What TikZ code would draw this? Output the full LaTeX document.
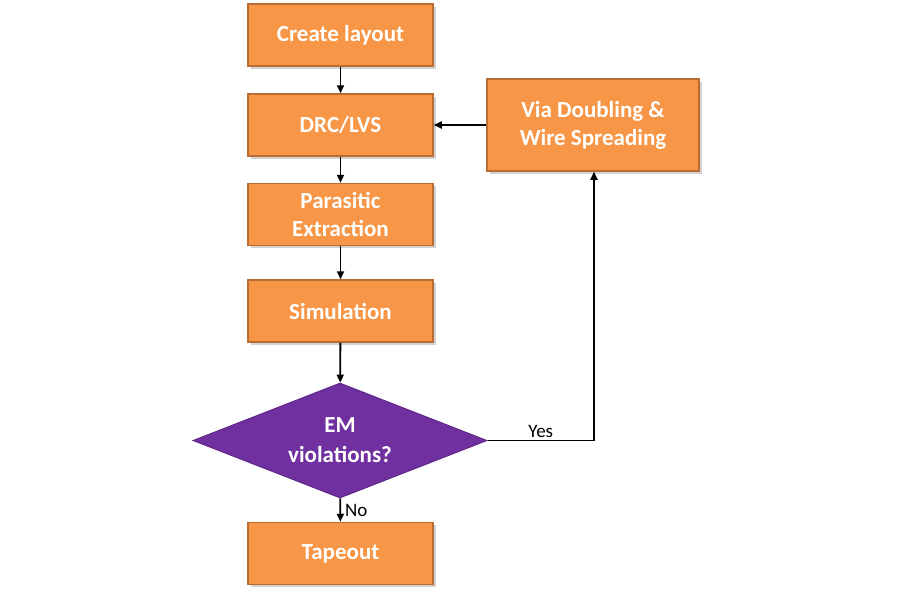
\documentclass[tikz,border=0pt]{standalone}
\usepackage{fontspec}
\setmainfont{Carlito}
\usetikzlibrary{shapes.geometric,arrows.meta,shadows}
\definecolor{boxfill}{HTML}{F79646}
\definecolor{boxline}{HTML}{B96C34}
\definecolor{dfill}{HTML}{7030A0}
\definecolor{dline}{HTML}{5E2788}
\begin{document}
\begin{tikzpicture}[x=1pt,y=-1pt,
  stepbox/.style={rectangle, draw=boxline, fill=boxfill, line width=1.5pt,
    minimum width=185pt, minimum height=62pt, inner sep=2pt, align=center,
    text=white, font=\fontsize{23}{28}\selectfont\bfseries,
    drop shadow={opacity=0.35, shadow xshift=2.5pt, shadow yshift=-2.5pt}},
  decision/.style={diamond, draw=dline, fill=dfill, line width=1pt, aspect=2.56,
    minimum width=294pt, minimum height=115pt, inner sep=0pt, align=center,
    text=white, font=\fontsize{23}{30}\selectfont\bfseries},
  conn/.style={draw=black, line width=1.8pt, -{Triangle[length=8pt,width=7pt]}},
  lbl/.style={font=\fontsize{19}{21}\selectfont, text=black, inner sep=1pt}
]
\useasboundingbox[fill=white] (0,0) rectangle (900,600);
\node[stepbox] (create) at (340.5,35) {Create layout};
\node[stepbox] (drc) at (340.5,125) {DRC/LVS};
\node[stepbox] (para) at (340.5,214.5) {Parasitic\\Extraction};
\node[stepbox] (sim) at (340.5,311) {Simulation};
\node[decision] (em) at (340,440.5) {EM\\violations?};
\node[stepbox] (tape) at (340.5,553.5) {Tapeout};
\node[stepbox, minimum width=212pt, minimum height=92pt] (via) at (593,125) {Via Doubling \&\\Wire Spreading};
\coordinate (corner) at (594,440.5);
\draw[conn] (create) -- (drc);
\draw[conn] (drc) -- (para);
\draw[conn] (para) -- (sim);
\draw[conn] (sim) -- (em);
\draw[conn] (em) -- node[lbl, right=3pt] {No} (tape);
\draw[conn] (em.east) -- node[lbl, above=1pt] {Yes} (corner) -- (via.south -| corner);
\draw[conn] (via) -- (drc);
\end{tikzpicture}
\end{document}
